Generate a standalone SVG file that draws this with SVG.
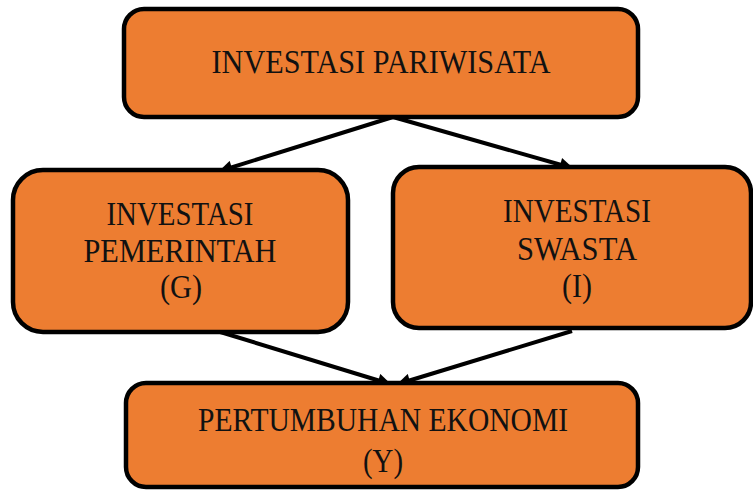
<svg xmlns="http://www.w3.org/2000/svg" width="753" height="490" viewBox="0 0 753 490">
<defs>
<style>
.box{fill:#ED7D31;stroke:#000;stroke-width:4.5}
.t{font-family:"Liberation Serif","Times New Roman",serif;font-size:34px;fill:#111;text-anchor:middle}
.c{stroke:#000;stroke-width:4;fill:none;marker-end:url(#ah)}
</style>
<marker id="ah" viewBox="0 0 10 10" refX="9" refY="5" markerWidth="4" markerHeight="3.4" orient="auto" markerUnits="strokeWidth">
<path d="M0,0 L10,5 L0,10 z" fill="#000"/>
</marker>
</defs>
<rect width="753" height="490" fill="#fff"/>
<g id="connectors">
<line class="c" x1="393" y1="117" x2="220" y2="171"/>
<line class="c" x1="393" y1="117" x2="572" y2="168"/>
<line class="c" x1="217" y1="331" x2="390" y2="384"/>
<line class="c" x1="572" y1="331" x2="398" y2="384"/>
</g>
<g id="n_pariwisata">
<rect class="box" x="124" y="9" width="514" height="108" rx="20"/>
<text class="t" x="381" y="73" textLength="339" lengthAdjust="spacingAndGlyphs">INVESTASI PARIWISATA</text>
</g>
<g id="n_pemerintah">
<rect class="box" x="13" y="170" width="335" height="162" rx="30"/>
<text class="t" x="180" y="225" textLength="147" lengthAdjust="spacingAndGlyphs">INVESTASI</text>
<text class="t" x="180" y="262" textLength="193" lengthAdjust="spacingAndGlyphs">PEMERINTAH</text>
<text class="t" x="181" y="298" textLength="42" lengthAdjust="spacingAndGlyphs">(G)</text>
</g>
<g id="n_swasta">
<rect class="box" x="393" y="167" width="358" height="161" rx="26"/>
<text class="t" x="577" y="222" textLength="148" lengthAdjust="spacingAndGlyphs">INVESTASI</text>
<text class="t" x="577" y="260" textLength="120" lengthAdjust="spacingAndGlyphs">SWASTA</text>
<text class="t" x="577" y="297" textLength="30" lengthAdjust="spacingAndGlyphs">(I)</text>
</g>
<g id="n_ekonomi">
<rect class="box" x="126" y="383" width="512" height="104" rx="20"/>
<text class="t" x="383" y="431" textLength="370" lengthAdjust="spacingAndGlyphs">PERTUMBUHAN EKONOMI</text>
<text class="t" x="383" y="472" textLength="40" lengthAdjust="spacingAndGlyphs">(Y)</text>
</g>
</svg>
